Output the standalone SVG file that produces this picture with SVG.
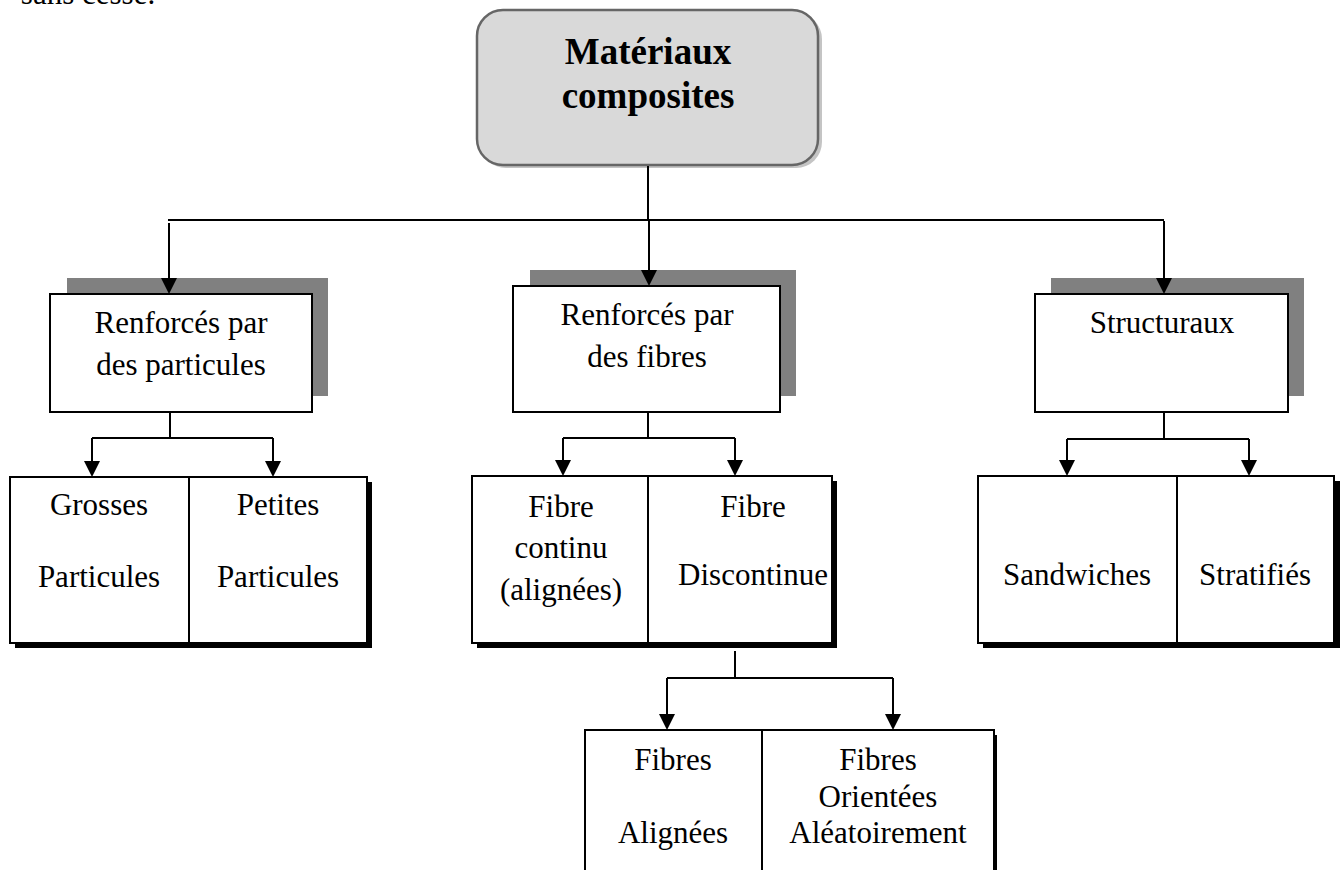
<svg xmlns="http://www.w3.org/2000/svg" width="1344" height="870" viewBox="0 0 1344 870">
<style>
text{font-family:"Liberation Serif","Times New Roman",serif;font-size:31px;fill:#000;text-anchor:middle}
.title{font-weight:bold;font-size:37px}
.box{fill:#fff;stroke:#000;stroke-width:2}
.gshadow{fill:#808080}
.bshadow{fill:#000}
.conn{fill:none;stroke:#000;stroke-width:2}
.div{stroke:#000;stroke-width:2}
.ah{fill:#000}
</style>
<rect width="1344" height="870" fill="#fff"/>
<text x="88" y="4">sans cesse.</text>

<g id="root">
<rect x="480" y="13" width="342" height="155" rx="26" fill="#c4c4c4"/>
<rect x="477" y="10" width="341" height="155" rx="26" fill="#d9d9d9" stroke="#666" stroke-width="2.5"/>
<text class="title" x="648" y="64">Matériaux</text>
<text class="title" x="648" y="108">composites</text>
</g>

<g id="particules">
<rect class="gshadow" x="67" y="278" width="261" height="118"/>
<rect class="box" x="50" y="294" width="262" height="118"/>
<text x="181" y="333">Renforcés par</text>
<text x="181" y="375">des particules</text>
</g>

<g id="fibres">
<rect class="gshadow" x="530" y="270" width="266" height="126"/>
<rect class="box" x="513" y="286" width="267" height="126"/>
<text x="647" y="325">Renforcés par</text>
<text x="647" y="367">des fibres</text>
</g>

<g id="structuraux">
<rect class="gshadow" x="1051" y="278" width="253" height="118"/>
<rect class="box" x="1035" y="294" width="253" height="118"/>
<text x="1162" y="333">Structuraux</text>
</g>

<g id="particules-types">
<rect class="bshadow" x="15" y="482" width="357" height="166"/>
<rect class="box" x="10" y="477" width="357" height="166"/>
<line class="div" x1="189" y1="477" x2="189" y2="643"/>
<text x="99" y="515">Grosses</text>
<text x="99" y="587">Particules</text>
<text x="278" y="515">Petites</text>
<text x="278" y="587">Particules</text>
</g>

<g id="fibres-types">
<rect class="bshadow" x="477" y="481" width="360" height="167"/>
<rect class="box" x="472" y="476" width="360" height="167"/>
<line class="div" x1="648" y1="476" x2="648" y2="643"/>
<text x="561" y="517">Fibre</text>
<text x="561" y="558">continu</text>
<text x="561" y="600">(alignées)</text>
<text x="753" y="517">Fibre</text>
<text x="753" y="585">Discontinue</text>
</g>

<g id="structuraux-types">
<rect class="bshadow" x="983" y="481" width="357" height="167"/>
<rect class="box" x="978" y="476" width="356" height="167"/>
<line class="div" x1="1177" y1="476" x2="1177" y2="643"/>
<text x="1077" y="585">Sandwiches</text>
<text x="1255" y="585">Stratifiés</text>
</g>

<g id="discontinue-types">
<rect class="bshadow" x="590" y="735" width="407" height="160"/>
<rect class="box" x="585" y="730" width="409" height="160"/>
<line class="div" x1="762" y1="730" x2="762" y2="890"/>
<text x="673" y="770">Fibres</text>
<text x="673" y="843">Alignées</text>
<text x="878" y="770">Fibres</text>
<text x="878" y="807">Orientées</text>
<text x="878" y="843">Aléatoirement</text>
</g>

<g id="connectors">
<path class="conn" d="M648,166 V220 M168,220 H1164"/>
<path class="conn" d="M169,223 V280"/>
<path class="conn" d="M649,221 V272"/>
<path class="conn" d="M1164,221 V280"/>
<path class="conn" d="M170,413 V438 M92,438 H273"/>
<path class="conn" d="M92,438 V463"/>
<path class="conn" d="M273,438 V463"/>
<path class="conn" d="M648,413 V438 M563,438 H735"/>
<path class="conn" d="M563,438 V462"/>
<path class="conn" d="M735,438 V462"/>
<path class="conn" d="M1164,413 V439 M1067,439 H1249"/>
<path class="conn" d="M1067,439 V462"/>
<path class="conn" d="M1249,439 V462"/>
<path class="conn" d="M735,651 V678 M667,678 H893"/>
<path class="conn" d="M667,678 V716"/>
<path class="conn" d="M893,678 V716"/>
<path class="ah" d="M161,278 L177,278 L169,294 Z"/>
<path class="ah" d="M641,270 L657,270 L649,286 Z"/>
<path class="ah" d="M1156,278 L1172,278 L1164,294 Z"/>
<path class="ah" d="M84,461 L100,461 L92,477 Z"/>
<path class="ah" d="M265,461 L281,461 L273,477 Z"/>
<path class="ah" d="M555,460 L571,460 L563,476 Z"/>
<path class="ah" d="M727,460 L743,460 L735,476 Z"/>
<path class="ah" d="M1059,460 L1075,460 L1067,476 Z"/>
<path class="ah" d="M1241,460 L1257,460 L1249,476 Z"/>
<path class="ah" d="M659,714 L675,714 L667,730 Z"/>
<path class="ah" d="M885,714 L901,714 L893,730 Z"/>
</g>
</svg>
